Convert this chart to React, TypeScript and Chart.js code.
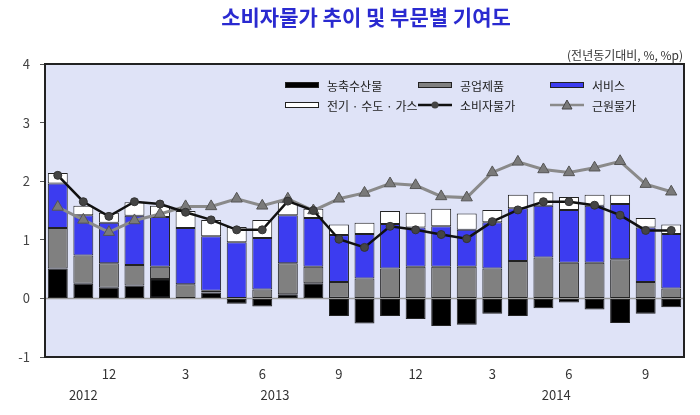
import { useEffect, useRef } from 'react';
import { Chart, registerables } from 'chart.js';

Chart.register(...registerables);

const FONT = '"Noto Sans CJK KR", "Noto Sans", sans-serif';

const categories = [
  '2012.10', '2012.11', '2012.12',
  '2013.01', '2013.02', '2013.03', '2013.04', '2013.05', '2013.06',
  '2013.07', '2013.08', '2013.09', '2013.10', '2013.11', '2013.12',
  '2014.01', '2014.02', '2014.03', '2014.04', '2014.05', '2014.06',
  '2014.07', '2014.08', '2014.09', '2014.10',
];

const monthTickLabels = [
  '', '', '12',
  '', '', '3', '', '', '6', '', '', '9', '', '', '12',
  '', '', '3', '', '', '6', '', '', '9', '',
];

const years = ['2012', '2013', '2014'];
const yearFirstIndex = [0, 3, 15];
const yearLastIndex = [2, 14, 24];

// 농축수산물
const agri = [0.51, 0.25, 0.18, 0.22, 0.33, 0, 0.1, -0.09, -0.14, 0.07, 0.26, -0.3, -0.43, -0.3, -0.35, -0.47, -0.45, -0.26, -0.3, -0.17, -0.07, -0.19, -0.42, -0.26, -0.15];
// 공업제품
const industrial = [0.69, 0.48, 0.42, 0.35, 0.21, 0.24, 0.03, 0, 0.15, 0.53, 0.28, 0.28, 0.34, 0.51, 0.54, 0.54, 0.54, 0.51, 0.64, 0.7, 0.61, 0.61, 0.67, 0.28, 0.17];
// 서비스
const services = [0.76, 0.69, 0.69, 0.84, 0.85, 0.96, 0.93, 0.96, 0.88, 0.82, 0.83, 0.8, 0.76, 0.76, 0.67, 0.69, 0.63, 0.79, 0.9, 0.88, 0.9, 0.97, 0.94, 0.93, 0.93];
// 전기·수도·가스
const utilities = [0.18, 0.16, 0.17, 0.23, 0.19, 0.29, 0.28, 0.26, 0.31, 0.22, 0.16, 0.18, 0.19, 0.22, 0.25, 0.3, 0.28, 0.21, 0.23, 0.23, 0.22, 0.19, 0.16, 0.16, 0.16];
// 소비자물가
const cpi = [2.1, 1.65, 1.4, 1.65, 1.61, 1.47, 1.34, 1.17, 1.17, 1.66, 1.5, 1.01, 0.87, 1.23, 1.17, 1.09, 1.02, 1.31, 1.51, 1.65, 1.65, 1.59, 1.42, 1.16, 1.16];
// 근원물가
const core = [1.56, 1.34, 1.13, 1.33, 1.44, 1.57, 1.57, 1.7, 1.58, 1.7, 1.5, 1.7, 1.8, 1.96, 1.93, 1.74, 1.72, 2.15, 2.33, 2.2, 2.15, 2.23, 2.34, 1.95, 1.82];

const yTicks = [-1, 0, 1, 2, 3, 4];

const COLORS = {
  agri: '#000000',
  industrial: '#808080',
  services: '#3c3cf0',
  utilities: '#ffffff',
  cpiLine: '#111111',
  cpiPoint: '#444444',
  coreLine: '#8a8a8a',
  corePoint: '#7a7a7a',
  plotBg: '#dfe3f7',
  title: '#2a2ad0',
};

const decorPlugin = {
  id: 'decor',
  beforeDraw(chart: any) {
    const { ctx, chartArea: a } = chart;
    ctx.save();
    ctx.fillStyle = COLORS.plotBg;
    ctx.fillRect(a.left, a.top, a.right - a.left, a.bottom - a.top);
    ctx.restore();
  },
  beforeDatasetsDraw(chart: any) {
    const { ctx, chartArea: a, scales } = chart;
    const y0 = scales.y.getPixelForValue(0);
    ctx.save();
    ctx.strokeStyle = '#9a9a9a';
    ctx.lineWidth = 1.5;
    ctx.beginPath();
    ctx.moveTo(a.left, y0);
    ctx.lineTo(a.right, y0);
    ctx.stroke();
    ctx.restore();
  },
  afterDraw(chart: any) {
    const { ctx, chartArea: a, scales } = chart;
    ctx.save();
    // plot border
    ctx.strokeStyle = '#222';
    ctx.lineWidth = 2;
    ctx.strokeRect(a.left, a.top, a.right - a.left, a.bottom - a.top);

    // title
    ctx.fillStyle = COLORS.title;
    ctx.font = `bold 21px ${FONT}`;
    ctx.textAlign = 'center';
    ctx.textBaseline = 'middle';
    ctx.fillText('소비자물가 추이 및 부문별 기여도', 366, 17);

    // unit
    ctx.fillStyle = '#333';
    ctx.font = `12px ${FONT}`;
    ctx.textAlign = 'right';
    ctx.fillText('(전년동기대비, %, %p)', a.right - 1, 55);

    // years
    ctx.fillStyle = '#333';
    ctx.font = `13px ${FONT}`;
    ctx.textAlign = 'center';
    years.forEach((yr, i) => {
      const x = (scales.x.getPixelForValue(yearFirstIndex[i]) + scales.x.getPixelForValue(yearLastIndex[i])) / 2;
      ctx.fillText(yr, x, 395);
    });

    // legend
    const rows = [85, 105];
    const cols = [285, 418, 550];
    const sw = 34;
    ctx.font = `12px ${FONT}`;
    ctx.textAlign = 'left';
    ctx.fillStyle = '#222';
    const box = (x: number, y: number, fill: string) => {
      ctx.fillStyle = fill;
      ctx.fillRect(x, y - 3, sw, 6);
      ctx.strokeStyle = '#222';
      ctx.lineWidth = 1;
      ctx.strokeRect(x + 0.5, y - 2.5, sw - 1, 5);
    };
    const label = (x: number, y: number, t: string) => {
      ctx.fillStyle = '#222';
      ctx.fillText(t, x + sw + 8, y + 1);
    };
    box(cols[0], rows[0], COLORS.agri); label(cols[0], rows[0], '농축수산물');
    box(cols[1], rows[0], COLORS.industrial); label(cols[1], rows[0], '공업제품');
    box(cols[2], rows[0], COLORS.services); label(cols[2], rows[0], '서비스');
    box(cols[0], rows[1], COLORS.utilities); label(cols[0], rows[1], '전기 · 수도 · 가스');
    // cpi line
    ctx.strokeStyle = COLORS.cpiLine;
    ctx.lineWidth = 2.5;
    ctx.beginPath();
    ctx.moveTo(cols[1], rows[1]);
    ctx.lineTo(cols[1] + sw, rows[1]);
    ctx.stroke();
    ctx.fillStyle = COLORS.cpiPoint;
    ctx.beginPath();
    ctx.arc(cols[1] + sw / 2, rows[1], 3.5, 0, Math.PI * 2);
    ctx.fill();
    label(cols[1], rows[1], '소비자물가');
    // core line
    ctx.strokeStyle = COLORS.coreLine;
    ctx.lineWidth = 2.5;
    ctx.beginPath();
    ctx.moveTo(cols[2], rows[1]);
    ctx.lineTo(cols[2] + sw, rows[1]);
    ctx.stroke();
    const cx = cols[2] + sw / 2;
    ctx.fillStyle = COLORS.corePoint;
    ctx.strokeStyle = '#444';
    ctx.lineWidth = 1;
    ctx.beginPath();
    ctx.moveTo(cx, rows[1] - 5);
    ctx.lineTo(cx + 5, rows[1] + 4);
    ctx.lineTo(cx - 5, rows[1] + 4);
    ctx.closePath();
    ctx.fill();
    ctx.stroke();
    label(cols[2], rows[1], '근원물가');
    ctx.restore();
  },
};

export default function App() {
  const ref = useRef<HTMLCanvasElement>(null);
  useEffect(() => {
    document.body.style.margin = '0';
    const barCommon = {
      type: 'bar' as const,
      borderColor: '#222',
      borderWidth: 1,
      borderSkipped: false,
      barPercentage: 0.78,
      categoryPercentage: 1,
      stack: 'bars',
      order: 3,
    };
    const chart = new Chart(ref.current!, {
      type: 'bar',
      data: {
        labels: categories,
        datasets: [
          { ...barCommon, label: '농축수산물', data: agri, backgroundColor: COLORS.agri },
          { ...barCommon, label: '공업제품', data: industrial, backgroundColor: COLORS.industrial },
          { ...barCommon, label: '서비스', data: services, backgroundColor: COLORS.services },
          { ...barCommon, label: '전기 · 수도 · 가스', data: utilities, backgroundColor: COLORS.utilities },
          {
            type: 'line', label: '근원물가', data: core, stack: 'core', order: 2,
            borderColor: COLORS.coreLine, borderWidth: 3, pointStyle: 'triangle',
            pointRadius: 6.5, pointBackgroundColor: COLORS.corePoint, pointBorderColor: '#555',
            pointBorderWidth: 1, tension: 0, fill: false,
          } as any,
          {
            type: 'line', label: '소비자물가', data: cpi, stack: 'cpi', order: 1,
            borderColor: COLORS.cpiLine, borderWidth: 2.5, pointStyle: 'circle',
            pointRadius: 4, pointBackgroundColor: COLORS.cpiPoint, pointBorderColor: '#333',
            pointBorderWidth: 1, tension: 0, fill: false,
          } as any,
        ],
      },
      options: {
        responsive: false,
        animation: false,
        layout: { padding: { left: 0, right: 16, top: 64, bottom: 0 } },
        plugins: { legend: { display: false }, tooltip: { enabled: false }, title: { display: false } },
        scales: {
          x: {
            stacked: true,
            grid: { display: false, drawTicks: false },
            border: { display: false },
            ticks: {
              autoSkip: false, maxRotation: 0, minRotation: 0, padding: 9,
              color: '#333', font: { family: FONT, size: 13 },
              callback: (_v: any, i: number) => monthTickLabels[i],
            },
            afterFit: (s: any) => { s.height = 58; },
          },
          y: {
            stacked: true,
            min: yTicks[0],
            max: yTicks[yTicks.length - 1],
            afterBuildTicks: (s: any) => { s.ticks = yTicks.map((v) => ({ value: v })); },
            grid: { drawOnChartArea: false, drawTicks: true, tickLength: 5, color: '#555', lineWidth: 1 },
            border: { display: true, color: '#222', width: 2 },
            ticks: { padding: 10, color: '#444', font: { family: FONT, size: 13 } },
            afterFit: (s: any) => { s.width = 45; },
          },
        },
      },
      plugins: [decorPlugin],
    } as any);
    return () => chart.destroy();
  }, []);
  return (
    <div style={{ width: 700, height: 415 }}>
      <canvas ref={ref} width={700} height={415} style={{ display: 'block' }} />
    </div>
  );
}
